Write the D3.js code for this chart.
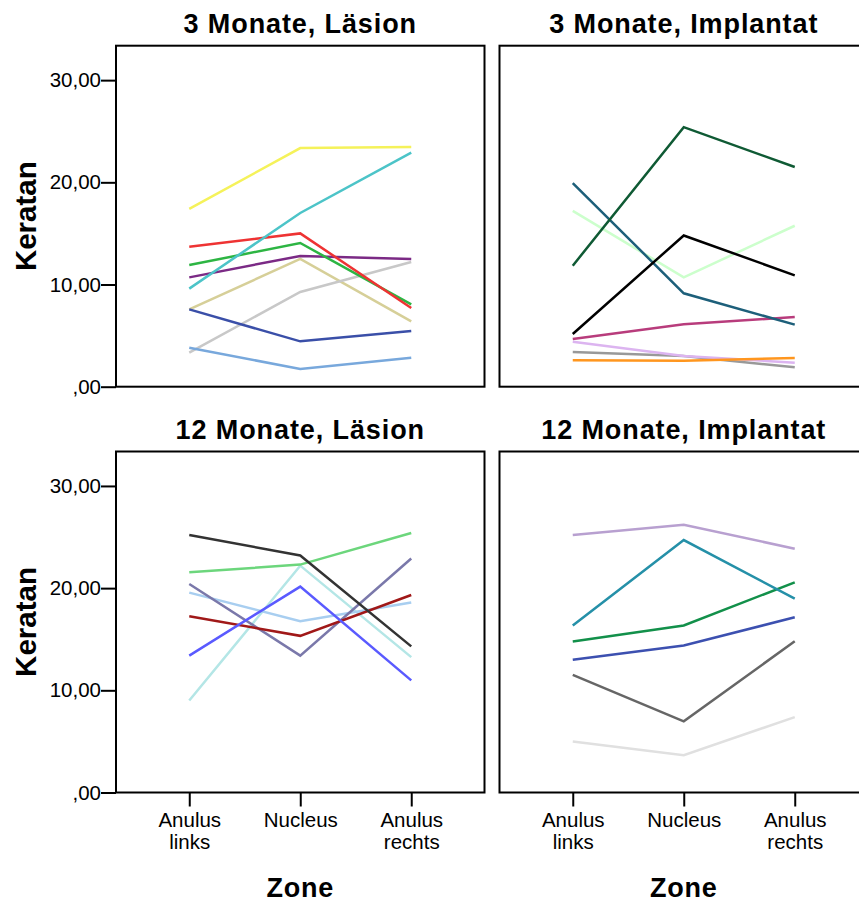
<!DOCTYPE html>
<html>
<head>
<meta charset="utf-8">
<script src="https://cdn.jsdelivr.net/npm/d3@7"></script>
<style>
  body { margin: 0; background: #fff; }
  svg { font-family: "Liberation Sans", Arial, sans-serif; }
</style>
</head>
<body>
<div id="main"></div>
<script>
// zones on the x axis
var zones = ["Anulus links", "Nucleus", "Anulus rechts"];
var zoneLabels = [["Anulus", "links"], ["Nucleus"], ["Anulus", "rechts"]];
var yTicks = [0, 10, 20, 30];
var yTickLabels = [",00", "10,00", "20,00", "30,00"];

// 3 Monate, Läsion
var m3Lesion = [
  [7.57, 12.5, 6.4],
  [3.33, 9.27, 12.2],
  [3.82, 1.73, 2.84],
  [7.57, 4.44, 5.45],
  [10.7, 12.8, 12.5],
  [11.9, 14.06, 8.06],
  [13.7, 15.0, 7.7],
  [9.6, 17.0, 22.9],
  [17.4, 23.35, 23.45]
];
var m3LesionColors = ["#d6cf98", "#c8c8c8", "#78a8dc", "#3a4fa8", "#7b2a85", "#2db543", "#ee3333", "#4cc4c8", "#f5f25a"];

// 3 Monate, Implantat
var m3Implant = [
  [3.4, 3.0, 1.9],
  [4.4, 3.0, 2.35],
  [2.58, 2.55, 2.8],
  [4.67, 6.1, 6.82],
  [17.2, 10.7, 15.75],
  [19.93, 9.14, 6.07],
  [5.16, 14.8, 10.9],
  [11.84, 25.4, 21.5]
];
var m3ImplantColors = ["#999999", "#dcb4f0", "#ff961e", "#b83c7c", "#ccffcc", "#1d5f7a", "#000000", "#0f5a34"];

// 12 Monate, Läsion
var m12Lesion = [
  [9.0, 22.2, 13.25],
  [19.56, 16.76, 18.6],
  [20.4, 13.4, 22.9],
  [17.25, 15.33, 19.33],
  [13.4, 20.15, 10.97],
  [21.55, 22.3, 25.4],
  [25.2, 23.2, 14.3]
];
var m12LesionColors = ["#b4e6e6", "#a8cef0", "#7a78aa", "#a01818", "#5a5aff", "#6cd67c", "#333333"];

// 12 Monate, Implantat
var m12Implant = [
  [5.0, 3.64, 7.38],
  [11.52, 6.96, 14.8],
  [13.0, 14.38, 17.15],
  [14.78, 16.34, 20.57],
  [16.34, 24.7, 18.97],
  [25.2, 26.2, 23.86]
];
var m12ImplantColors = ["#e0e0e0", "#666666", "#3c50b0", "#12904a", "#2590a8", "#b8a0d0"];

var panels = [
  { title: "3 Monate, Läsion", data: m3Lesion, colors: m3LesionColors, col: 0, row: 0 },
  { title: "3 Monate, Implantat", data: m3Implant, colors: m3ImplantColors, col: 1, row: 0 },
  { title: "12 Monate, Läsion", data: m12Lesion, colors: m12LesionColors, col: 0, row: 1 },
  { title: "12 Monate, Implantat", data: m12Implant, colors: m12ImplantColors, col: 1, row: 1 }
];

var width = 859, height = 902;
var boxW = 368.5, boxH = 341;
var colX = [116, 499.5];
var rowY = [45.7, 451.5];

var svg = d3.select("#main").append("svg")
  .attr("width", width)
  .attr("height", height);

panels.forEach(function (p) {
  var x0 = colX[p.col], y0 = rowY[p.row];
  var g = svg.append("g").attr("transform", "translate(" + x0 + "," + y0 + ")");

  var x = d3.scalePoint().domain(zones).range([0, boxW]).padding(0.66);
  var y = d3.scaleLinear().domain([0, 33.37]).range([boxH, 0]);

  var line = d3.line()
    .x(function (d, i) { return x(zones[i]); })
    .y(function (d) { return y(d); });

  g.selectAll("path.series")
    .data(p.data)
    .enter().append("path")
    .attr("class", "series")
    .attr("d", line)
    .attr("fill", "none")
    .attr("stroke", function (d, i) { return p.colors[i]; })
    .attr("stroke-width", 2.5);

  // frame
  g.append("rect")
    .attr("x", 0).attr("y", 0)
    .attr("width", boxW).attr("height", boxH)
    .attr("fill", "none")
    .attr("stroke", "#000")
    .attr("stroke-width", 2);

  // title
  g.append("text")
    .attr("x", boxW / 2)
    .attr("y", -13)
    .attr("text-anchor", "middle")
    .attr("font-weight", "bold")
    .attr("font-size", 27)
    .attr("letter-spacing", 0.9)
    .text(p.title);

  if (p.col === 0) {
    var yAxis = d3.axisLeft(y)
      .tickValues(yTicks)
      .tickFormat(function (d, i) { return yTickLabels[i]; })
      .tickSize(15)
      .tickSizeOuter(0)
      .tickPadding(0);
    var ya = g.append("g").call(yAxis);
    ya.select(".domain").remove();
    ya.selectAll(".tick line").attr("stroke-width", 2);
    ya.selectAll(".tick text")
      .attr("font-size", 20.5)
      .attr("font-family", "Liberation Sans, Arial, sans-serif")
      .attr("fill", "#000");

    g.append("text")
      .attr("transform", "translate(" + (-80) + "," + (boxH / 2) + ") rotate(-90)")
      .attr("text-anchor", "middle")
      .attr("font-weight", "bold")
      .attr("font-size", 29.5)
      .text("Keratan");
  }

  if (p.row === 1) {
    var xAxis = d3.axisBottom(x)
      .tickSize(14)
      .tickSizeOuter(0)
      .tickFormat("");
    var xa = g.append("g").attr("transform", "translate(0," + boxH + ")").call(xAxis);
    xa.select(".domain").remove();
    xa.selectAll(".tick line").attr("stroke-width", 2);
    xa.selectAll(".tick").each(function (d, i) {
      var t = d3.select(this).append("text")
        .attr("text-anchor", "middle")
        .attr("font-size", 20.5)
        .attr("fill", "#000")
        .attr("y", 34.5);
      zoneLabels[i].forEach(function (s, k) {
        t.append("tspan").attr("x", 0).attr("dy", k === 0 ? 0 : 21.5).text(s);
      });
    });

    g.append("text")
      .attr("x", x("Nucleus"))
      .attr("y", boxH + 104)
      .attr("text-anchor", "middle")
      .attr("font-weight", "bold")
      .attr("font-size", 27)
      .attr("letter-spacing", 0.8)
      .text("Zone");
  }
});
</script>
</body>
</html>
